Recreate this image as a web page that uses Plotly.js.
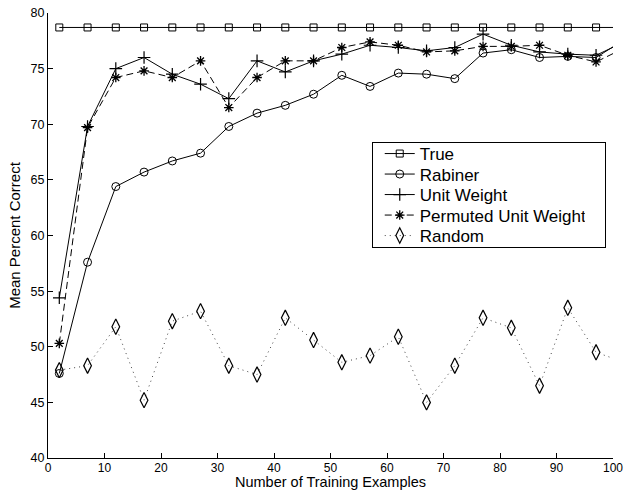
<!DOCTYPE html>
<html>
<head>
<meta charset="utf-8">
<script src="https://cdn.plot.ly/plotly-3.0.1.min.js"></script>
<style>
  html, body { margin: 0; padding: 0; background: #fff; }
  #chart { width: 626px; height: 490px; }
</style>
</head>
<body>
<div id="chart"></div>
<script>
// Training set sizes (last point lies just past the axis end and is clipped)
const trainingExamples = [2, 7, 12, 17, 22, 27, 32, 37, 42, 47, 52, 57, 62, 67, 72, 77, 82, 87, 92, 97, 102];

const trueVals = [78.7, 78.7, 78.7, 78.7, 78.7, 78.7, 78.7, 78.7, 78.7, 78.7, 78.7,
                  78.7, 78.7, 78.7, 78.7, 78.7, 78.7, 78.7, 78.7, 78.7, 78.7];
const rabinerVals = [47.6, 57.6, 64.4, 65.7, 66.7, 67.4, 69.8, 71.0, 71.7, 72.7, 74.4,
                     73.4, 74.6, 74.5, 74.1, 76.4, 76.7, 76.0, 76.1, 76.0, 77.6];
const unitWeightVals = [54.4, 69.8, 75.0, 76.0, 74.5, 73.6, 72.3, 75.7, 74.7, 75.7, 76.3,
                        77.1, 76.9, 76.6, 76.9, 78.1, 77.1, 76.5, 76.3, 76.2, 77.4];
const permutedVals = [50.3, 69.7, 74.2, 74.8, 74.2, 75.7, 71.5, 74.2, 75.7, 75.7, 76.9,
                      77.4, 77.1, 76.5, 76.6, 77.0, 77.0, 77.1, 76.2, 75.6, 76.85];
const randomVals = [47.9, 48.3, 51.8, 45.2, 52.3, 53.2, 48.3, 47.5, 52.6, 50.6, 48.6,
                    49.2, 50.9, 45.0, 48.3, 52.6, 51.7, 46.5, 53.5, 49.5, 48.6];

const seriesNames = ["True", "Rabiner", "Unit Weight", "Permuted Unit Weight", "Random"];
const xTickVals = [0, 10, 20, 30, 40, 50, 60, 70, 80, 90, 100];
const yTickVals = [40, 45, 50, 55, 60, 65, 70, 75, 80];

const FONT = "Liberation Sans, Arial, Helvetica, sans-serif";

const traces = [
  {
    x: trainingExamples, y: trueVals, name: seriesNames[0], mode: "lines+markers",
    line: { color: "#000", width: 1 },
    marker: { symbol: "square-open", size: 7, color: "#000", line: { width: 1, color: "#000" } }
  },
  {
    x: trainingExamples, y: rabinerVals, name: seriesNames[1], mode: "lines+markers",
    line: { color: "#000", width: 1 },
    marker: { symbol: "circle-open", size: 8, color: "#000", line: { width: 1, color: "#000" } }
  },
  {
    x: trainingExamples, y: unitWeightVals, name: seriesNames[2], mode: "lines+markers",
    line: { color: "#000", width: 1 },
    marker: { symbol: "cross-thin-open", size: 9, color: "#000", line: { width: 1.2, color: "#000" } }
  },
  {
    x: trainingExamples, y: permutedVals, name: seriesNames[3], mode: "lines+markers",
    line: { color: "#000", width: 1, dash: "7px,4px" },
    marker: { symbol: "asterisk-open", size: 8, color: "#000", line: { width: 1.3, color: "#000" } }
  },
  {
    x: trainingExamples, y: randomVals, name: seriesNames[4], mode: "lines+markers",
    line: { color: "#444", width: 1, dash: "1px,4px" },
    marker: { symbol: "diamond-tall-open", size: 11, color: "#000", line: { width: 1.2, color: "#000" } }
  }
];

const layout = {
  width: 626, height: 490,
  margin: { l: 48, r: 13, t: 13, b: 32, pad: 0 },
  paper_bgcolor: "#fff", plot_bgcolor: "#fff",
  font: { family: FONT, color: "#000", size: 12.5 },
  showlegend: true,
  legend: {
    x: 0.573, y: 0.71, xanchor: "left", yanchor: "top",
    bgcolor: "#fff", bordercolor: "#000", borderwidth: 1,
    font: { family: FONT, size: 17, color: "#000" },
    tracegroupgap: 0
  },
  xaxis: {
    range: [0, 100], tickvals: xTickVals, ticktext: xTickVals.map(String),
    ticks: "inside", ticklen: 5, tickwidth: 1, tickcolor: "#000",
    showline: true, linecolor: "#000", linewidth: 1, mirror: false,
    showgrid: false, zeroline: false, ticklabelstandoff: -1,
    tickfont: { family: FONT, size: 12, color: "#000" },
    title: { text: "Number of Training Examples", font: { family: FONT, size: 14.5, color: "#000" }, standoff: 0 }
  },
  yaxis: {
    range: [40, 80], tickvals: yTickVals, ticktext: yTickVals.map(String),
    ticks: "inside", ticklen: 5, tickwidth: 1, tickcolor: "#000",
    showline: true, linecolor: "#000", linewidth: 1, mirror: false,
    showgrid: false, zeroline: false,
    tickfont: { family: FONT, size: 12.5, color: "#000" },
    title: { text: "Mean Percent Correct", font: { family: FONT, size: 15, color: "#000" }, standoff: 6 }
  }
};

// Legend geometry tuned to the reference (compact rows, wider box)
const LEGEND_ROW = 20.5, LEGEND_TOP = 11.5, LEGEND_BOX_W = 233, LEGEND_BOX_H = 105, LEGEND_DX = 8;

Plotly.newPlot("chart", traces, layout, { staticPlot: true, displayModeBar: false }).then(function (gd) {
  const leg = gd.querySelector(".legend");
  if (!leg) return;
  const items = leg.querySelectorAll(".traces");
  items.forEach(function (g, i) {
    g.setAttribute("transform", "translate(" + LEGEND_DX + "," + (LEGEND_TOP + i * LEGEND_ROW) + ")");
  });
  const bg = leg.querySelector("rect.bg");
  if (bg) {
    bg.setAttribute("width", LEGEND_BOX_W);
    bg.setAttribute("height", LEGEND_BOX_H);
  }
  leg.querySelectorAll("clipPath rect, defs rect").forEach(function (r) {
    r.setAttribute("width", LEGEND_BOX_W);
    r.setAttribute("height", LEGEND_BOX_H);
  });
});
</script>
</body>
</html>
